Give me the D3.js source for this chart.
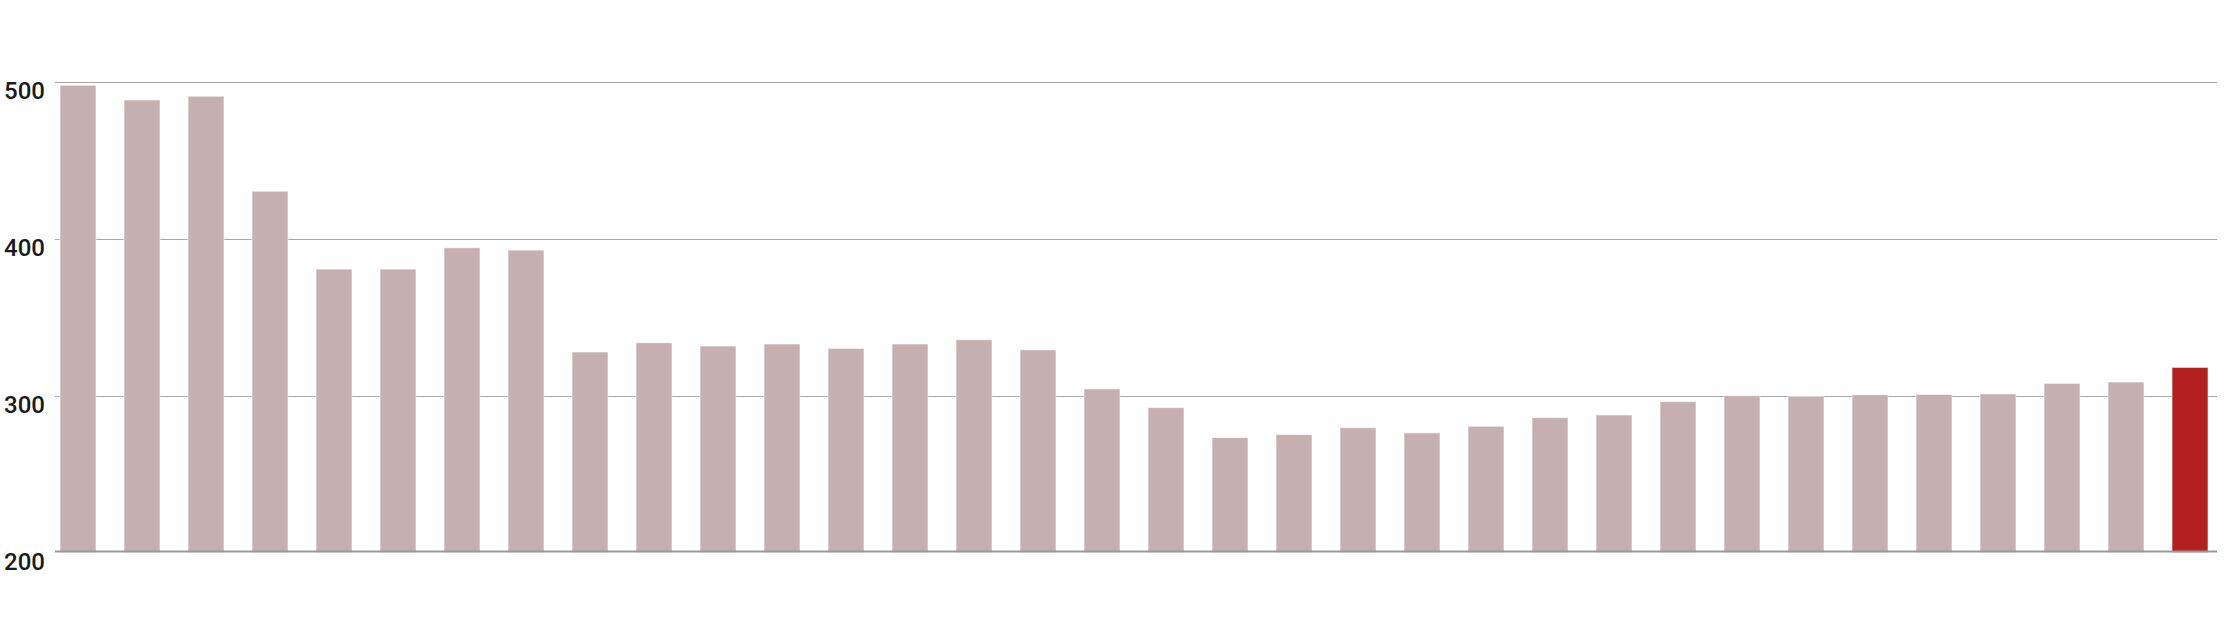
<!DOCTYPE html>
<html>
<head>
<meta charset="utf-8">
<script src="https://cdn.jsdelivr.net/npm/d3@7"></script>
<style>
  body { margin: 0; background: #fff; }
  #chart { width: 2228px; height: 638px; }
</style>
</head>
<body>
<div id="chart"></div>
<script>
// bar categories (no labels visible in the chart, so just ordered positions)
const categories = d3.range(1, 35).map(String);

const values = [
    497.6, 488.2, 490.6, 430.1, 380.5, 380.5, 394.1, 392.6,
    327.7, 333.6, 331.5, 332.8, 330.0, 332.8, 335.5, 329.1,
    304.2, 292.3, 273.2, 275.1, 279.5, 276.2, 280.4, 285.9,
    287.6, 296.1, 299.9, 299.5, 300.5, 300.7, 301.0, 307.7,
    308.6, 317.9,
];

const yTicks = [200, 300, 400, 500];

const width = 2228;
const height = 638;

const barColour = '#c5afb0';
const highlightColour = '#b22020';

const svg = d3.select('#chart').append('svg')
    .attr('width', width)
    .attr('height', height);

// SCALES
const xScale = d3.scaleBand()
    .domain(categories)
    .range([60, 2208])
    .paddingInner(0.4375)
    .paddingOuter(0);

const yScale = d3.scaleLinear()
    .domain([200, 500])
    .range([552.5, 81.5]);

const gridLeft = 55;
const gridRight = 2217;

// gridlines
svg.append('g')
    .selectAll('line')
    .data(yTicks.filter(d => d !== 200))
    .join('line')
    .attr('x1', gridLeft)
    .attr('x2', gridRight)
    .attr('y1', d => Math.round(yScale(d)) + 0.5)
    .attr('y2', d => Math.round(yScale(d)) + 0.5)
    .attr('stroke', '#a6a6a6')
    .attr('stroke-width', 1);

// bars
svg.append('g')
    .selectAll('rect')
    .data(values)
    .join('rect')
    .attr('x', (d, i) => xScale(categories[i]))
    .attr('y', d => yScale(d))
    .attr('width', xScale.bandwidth())
    .attr('height', d => yScale(200) - yScale(d))
    .attr('fill', (d, i) => i === values.length - 1 ? highlightColour : barColour)
    .attr('stroke', 'rgba(255,255,255,0.6)')
    .attr('stroke-width', 1);

// baseline
svg.append('line')
    .attr('x1', gridLeft)
    .attr('x2', gridRight)
    .attr('y1', yScale(200) - 1)
    .attr('y2', yScale(200) - 1)
    .attr('stroke', '#999')
    .attr('stroke-width', 2);

// tick labels, top of text sits on the gridline
svg.append('g')
    .selectAll('text')
    .data(yTicks)
    .join('text')
    .attr('x', 4)
    .attr('y', d => yScale(d) + 17)
    .style('font-family', 'Roboto, sans-serif')
    .style('font-weight', 500)
    .style('font-size', '24px')
    .attr('fill', '#1a1a1a')
    .text(d => d);
</script>
</body>
</html>
